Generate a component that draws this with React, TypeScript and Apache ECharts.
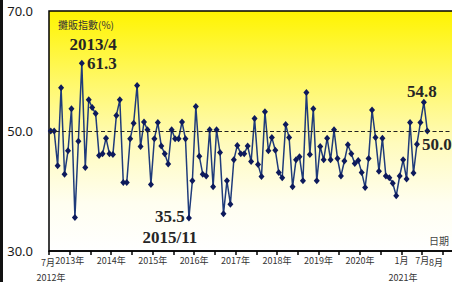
import React, { useEffect, useRef } from "react";
import * as echarts from "echarts";

// Monthly index values, Jul 2012 .. Aug 2021
const v2012 = [50.0, 50.0, 44.2, 57.2, 42.8, 46.7];
const v2013 = [53.7, 35.6, 48.3, 61.3, 43.9, 55.2, 53.9, 52.9, 45.9, 46.2, 48.8, 46.2];
const v2014 = [46.1, 52.6, 55.2, 41.4, 41.4, 48.7, 51.3, 57.6, 47.4, 51.5, 50.2, 41.1];
const v2015 = [48.7, 51.4, 47.5, 46.2, 44.5, 50.2, 48.7, 48.7, 51.5, 48.7, 35.5, 41.7];
const v2016 = [54.1, 45.8, 42.8, 42.5, 50.2, 40.7, 50.2, 46.4, 36.2, 41.7, 37.8, 45.2];
const v2017 = [47.6, 46.2, 46.2, 47.5, 44.9, 52.1, 44.4, 42.4, 53.2, 46.7, 48.9, 46.8];
const v2018 = [43.1, 42.2, 51.1, 48.9, 40.7, 45.2, 45.7, 41.7, 56.4, 46.1, 53.7, 41.7];
const v2019 = [47.4, 45.2, 48.8, 45.2, 50.2, 45.4, 42.5, 45.0, 47.7, 46.2, 44.6, 45.1];
const v2020 = [43.1, 40.6, 45.4, 53.5, 48.9, 43.3, 48.8, 42.5, 42.2, 41.3, 39.2, 42.5];
const v2021 = [45.2, 42.0, 51.4, 43.0, 47.8, 51.4, 54.8, 50.0];

const values = [...v2012, ...v2013, ...v2014, ...v2015, ...v2016, ...v2017, ...v2018, ...v2019, ...v2020, ...v2021];

// one label per 6-month tick, starting Jul 2012 (first one drawn separately)
const tickLabels = [
  "", "2013年", "", "2014年", "", "2015年", "", "2016年", "", "2017年", "",
  "2018年", "", "2019年", "", "2020年", "", "1月", "7月", "", "",
];
// extra labels around the axis
const extraAxisLabels = [
  { text: "7月", x: 48, y: 262 },
  { text: "2012年", x: 51, y: 277 },
  { text: "2021年", x: 403, y: 277 },
  { text: "8月", x: 436, y: 262 },
];

const yTicks = [30, 50, 70];
const refLine = 50;

const annotations: Record<number, any> = {
  9: { text: "2013/4\n61.3", position: [38, -5.7], align: "right", lineHeight: 19 },
  40: { text: "35.5\n2015/11", position: [-16, 12.5], align: "center", lineHeight: 21 },
  108: { text: "54.8", position: [1, -7], align: "center", lineHeight: 18 },
  109: { text: "50.0", position: [-2.3, 17], align: "left", lineHeight: 18 },
};

export default function App() {
  const ref = useRef<HTMLDivElement>(null);
  useEffect(() => {
    const chart = echarts.init(ref.current!, undefined, { renderer: "svg" });
    const data = values.map((v, i) => {
      const a = annotations[i];
      if (!a) return [i + 0.5, v];
      return {
        value: [i + 0.5, v],
        label: {
          show: true,
          formatter: a.text,
          position: a.position,
          align: a.align,
          verticalAlign: "middle",
          lineHeight: a.lineHeight,
          fontFamily: "Liberation Serif",
          fontWeight: "bold",
          fontSize: 17,
          color: "#262626",
        },
      };
    });
    chart.setOption({
      animation: false,
      backgroundColor: "#ffffff",
      grid: {
        show: true,
        left: 49,
        top: 11,
        width: 414.6,
        height: 240,
        borderColor: "#000",
        borderWidth: 1.5,
        backgroundColor: new echarts.graphic.LinearGradient(0, 0, 0, 1, [
          { offset: 0, color: "#fff400" },
          { offset: 0.3, color: "#fff86a" },
          { offset: 0.55, color: "#fffbbc" },
          { offset: 0.8, color: "#fffef0" },
          { offset: 1, color: "#ffffff" },
        ]),
      },
      xAxis: {
        type: "value",
        min: 0,
        max: 120,
        interval: 6,
        axisLine: { show: true, lineStyle: { color: "#000", width: 1.5 } },
        axisTick: { show: true, length: 4, lineStyle: { color: "#000", width: 1.5 } },
        splitLine: { show: false },
        axisLabel: {
          margin: 5,
          fontSize: 9,
          color: "#333",
          fontFamily: "Noto Sans CJK TC",
          showMinLabel: true,
          showMaxLabel: true,
          hideOverlap: false,
          formatter: (val: number) => tickLabels[Math.round(val / 6)] ?? "",
        },
      },
      yAxis: {
        type: "value",
        min: yTicks[0],
        max: yTicks[yTicks.length - 1],
        interval: 20,
        axisLine: { show: false },
        axisTick: { show: false },
        splitLine: { show: false },
        axisLabel: {
          margin: 16,
          fontSize: 13,
          color: "#1a1a1a",
          fontFamily: "Noto Sans",
          formatter: (v: number) => v.toFixed(1),
        },
      },
      graphic: [
        { type: "rect", left: 0, top: 0, shape: { width: 3, height: 282 }, style: { fill: "#111" } },
        {
          type: "text", x: 58, y: 24,
          style: { text: "攤販指數(%)", font: "10px 'Noto Sans CJK TC'", fill: "#333", verticalAlign: "middle" },
        },
        {
          type: "text", x: 429, y: 240,
          style: { text: "日期", font: "10px 'Noto Sans CJK TC'", fill: "#444", verticalAlign: "middle" },
        },
        ...extraAxisLabels.map((l) => ({
          type: "text", x: l.x, y: l.y,
          style: { text: l.text, font: "9px 'Noto Sans CJK TC'", fill: "#333", align: "center", verticalAlign: "middle" },
        })),
      ],
      series: [
        {
          type: "line",
          data,
          symbol: "diamond",
          symbolSize: [6, 7],
          lineStyle: { color: "#1f3b7a", width: 1.5 },
          itemStyle: { color: "#0d1a5c" },
          markLine: {
            silent: true,
            symbol: "none",
            label: { show: false },
            lineStyle: { color: "#222", type: [4, 2.5], width: 1.2 },
            data: [{ yAxis: refLine }],
          },
        },
      ],
    });
    return () => chart.dispose();
  }, []);
  return (
    <div style={{ position: "fixed", left: 0, top: 0, width: 452, height: 282, overflow: "hidden", background: "#fff" }}>
      <div ref={ref} style={{ width: 480, height: 282 }} />
    </div>
  );
}
